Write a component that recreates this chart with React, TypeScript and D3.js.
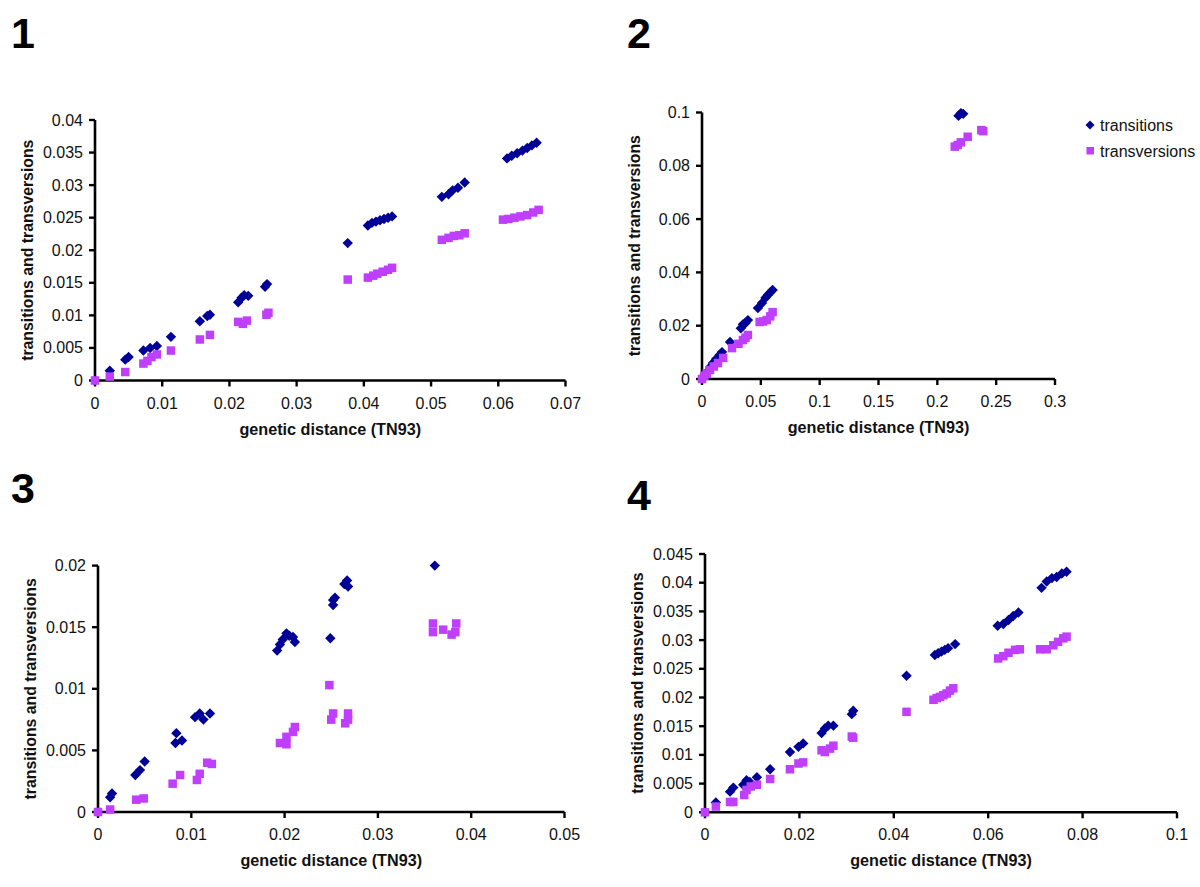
import React from "react";
import * as d3 from "d3";

type Pt = [number, number];

// ---------- data ----------
const p1Transitions: Pt[] = [[0,0],[0.0022,0.0015],[0.0045,0.0032],[0.005,0.0036],[0.0072,0.0046],[0.0082,0.005],[0.0092,0.0053],[0.0113,0.0067],[0.0156,0.0091],[0.0167,0.0099],[0.0171,0.0101],[0.0213,0.012],[0.0218,0.0127],[0.0222,0.0131],[0.0228,0.013],[0.0253,0.0144],[0.0256,0.0148],[0.0376,0.0211],[0.0406,0.0238],[0.0412,0.0242],[0.0418,0.0244],[0.0424,0.0246],[0.043,0.0248],[0.0436,0.025],[0.0442,0.0252],[0.0516,0.0282],[0.0526,0.0286],[0.0532,0.0292],[0.054,0.0296],[0.055,0.0304],[0.0613,0.0341],[0.062,0.0345],[0.0628,0.0349],[0.0636,0.0353],[0.0643,0.0357],[0.065,0.0361],[0.0657,0.0365]];
const p1Transversions: Pt[] = [[0,0],[0.0022,0.0006],[0.0045,0.0013],[0.0072,0.0026],[0.0078,0.003],[0.0084,0.0036],[0.0092,0.004],[0.0113,0.0046],[0.0156,0.0063],[0.0171,0.007],[0.0213,0.009],[0.022,0.0087],[0.0226,0.0092],[0.0255,0.0101],[0.0258,0.0104],[0.0376,0.0155],[0.0406,0.0158],[0.0414,0.0161],[0.042,0.0164],[0.0428,0.0167],[0.0436,0.017],[0.0442,0.0173],[0.0516,0.0216],[0.0526,0.0219],[0.0534,0.0222],[0.0542,0.0223],[0.055,0.0226],[0.0607,0.0247],[0.0615,0.0248],[0.0624,0.025],[0.0633,0.0252],[0.0643,0.0254],[0.0652,0.0258],[0.066,0.0262]];

const p2Transitions: Pt[] = [[0,0],[0.001,0.0008],[0.004,0.0025],[0.007,0.0045],[0.0093,0.006],[0.012,0.0075],[0.015,0.009],[0.017,0.0101],[0.0238,0.0139],[0.033,0.019],[0.0348,0.0205],[0.037,0.021],[0.039,0.0221],[0.0475,0.0266],[0.051,0.0285],[0.054,0.0305],[0.056,0.0315],[0.058,0.0325],[0.06,0.0334],[0.218,0.0988],[0.22,0.0997],[0.222,0.0995]];
const p2Transversions: Pt[] = [[0,0],[0.002,0.0012],[0.004,0.002],[0.0068,0.0034],[0.01,0.0047],[0.0136,0.006],[0.018,0.0079],[0.0255,0.0116],[0.031,0.0132],[0.0348,0.0146],[0.037,0.0155],[0.039,0.0165],[0.049,0.0214],[0.052,0.0216],[0.055,0.0221],[0.058,0.0235],[0.06,0.0251],[0.2148,0.0872],[0.2173,0.0878],[0.22,0.0888],[0.2258,0.0909],[0.2374,0.0934],[0.239,0.093]];

const p3Transitions: Pt[] = [[0,0],[0.0013,0.0012],[0.0015,0.0015],[0.004,0.003],[0.0045,0.0034],[0.005,0.0041],[0.0084,0.0064],[0.0083,0.0056],[0.009,0.0058],[0.0104,0.0077],[0.0109,0.008],[0.0113,0.0075],[0.012,0.008],[0.0192,0.0131],[0.0195,0.0136],[0.0198,0.014],[0.0202,0.0145],[0.0205,0.0143],[0.0209,0.0142],[0.0211,0.0138],[0.0249,0.0141],[0.0252,0.0172],[0.0252,0.0168],[0.0254,0.0174],[0.0264,0.0185],[0.0267,0.0188],[0.0268,0.0183],[0.0361,0.02]];
const p3Transversions: Pt[] = [[0,0],[0.0013,0.0002],[0.0041,0.001],[0.0049,0.0011],[0.008,0.0023],[0.0088,0.003],[0.0106,0.0026],[0.0109,0.0031],[0.0117,0.004],[0.0122,0.0039],[0.0195,0.0056],[0.0202,0.0055],[0.0202,0.0061],[0.0209,0.0065],[0.0211,0.0069],[0.0248,0.0103],[0.025,0.0075],[0.0252,0.008],[0.0265,0.0072],[0.0268,0.008],[0.0268,0.0075],[0.0359,0.0153],[0.0359,0.0146],[0.037,0.0148],[0.0379,0.0144],[0.0384,0.0153],[0.0383,0.0146]];

const p4Transitions: Pt[] = [[0,0],[0.0023,0.0017],[0.0053,0.0036],[0.006,0.0043],[0.0081,0.0048],[0.0088,0.0056],[0.0095,0.0053],[0.011,0.0061],[0.0138,0.0075],[0.018,0.0105],[0.0198,0.0114],[0.0208,0.012],[0.0247,0.0138],[0.0254,0.0146],[0.0261,0.0151],[0.0272,0.0151],[0.0311,0.0171],[0.0314,0.0177],[0.0427,0.0238],[0.0487,0.0274],[0.0494,0.0277],[0.0501,0.028],[0.0508,0.0283],[0.0515,0.0286],[0.053,0.0293],[0.062,0.0325],[0.0632,0.0328],[0.0643,0.0335],[0.0653,0.0342],[0.0664,0.0348],[0.0713,0.0391],[0.0724,0.0402],[0.0735,0.0408],[0.0745,0.041],[0.0756,0.0416],[0.0766,0.0419]];
const p4Transversions: Pt[] = [[0,0],[0.0023,0.001],[0.0053,0.0018],[0.006,0.0018],[0.0083,0.003],[0.0088,0.0039],[0.0097,0.0045],[0.011,0.0048],[0.0138,0.0058],[0.018,0.0075],[0.0198,0.0085],[0.0208,0.0087],[0.0247,0.0108],[0.0254,0.0105],[0.0265,0.0111],[0.0272,0.0116],[0.0311,0.0132],[0.0314,0.013],[0.0427,0.0175],[0.0484,0.0196],[0.0491,0.0199],[0.0498,0.0201],[0.0505,0.0204],[0.0512,0.0207],[0.0519,0.0212],[0.0526,0.0216],[0.0621,0.0268],[0.0632,0.0272],[0.0643,0.0278],[0.0657,0.0283],[0.0667,0.0284],[0.071,0.0284],[0.0724,0.0284],[0.0738,0.0291],[0.0748,0.0297],[0.0759,0.0303],[0.0766,0.0306]];

const p1XTicks = ["0","0.01","0.02","0.03","0.04","0.05","0.06","0.07"];
const p1YTicks = ["0","0.005","0.01","0.015","0.02","0.025","0.03","0.035","0.04"];
const p2XTicks = ["0","0.05","0.1","0.15","0.2","0.25","0.3"];
const p2YTicks = ["0","0.02","0.04","0.06","0.08","0.1"];
const p3XTicks = ["0","0.01","0.02","0.03","0.04","0.05"];
const p3YTicks = ["0","0.005","0.01","0.015","0.02"];
const p4XTicks = ["0","0.02","0.04","0.06","0.08","0.1"];
const p4YTicks = ["0","0.005","0.01","0.015","0.02","0.025","0.03","0.035","0.04","0.045"];

const panelNames = ["1", "2", "3", "4"];
const seriesNames = ["transitions", "transversions"];
const xTitle = "genetic distance (TN93)";
const yTitle = "transitions and transversions";

// ---------- styles / layout ----------
const NAVY = "#000096";
const PURPLE = "#bf3ffc";
const FONT = "Arial, 'Liberation Sans', Helvetica, sans-serif";

interface PanelCfg {
  name: string;
  xr: [number, number];
  yr: [number, number];
  xTicks: string[];
  yTicks: string[];
  tr: Pt[];
  tv: Pt[];
  label: [number, number];
}

const panels: PanelCfg[] = [
  { name: panelNames[0], xr: [95, 565.5], yr: [380.5, 120], xTicks: p1XTicks, yTicks: p1YTicks, tr: p1Transitions, tv: p1Transversions, label: [11, 48] },
  { name: panelNames[1], xr: [702, 1055], yr: [379, 112.5], xTicks: p2XTicks, yTicks: p2YTicks, tr: p2Transitions, tv: p2Transversions, label: [627, 48] },
  { name: panelNames[2], xr: [98, 564.5], yr: [812, 565.6], xTicks: p3XTicks, yTicks: p3YTicks, tr: p3Transitions, tv: p3Transversions, label: [11, 503] },
  { name: panelNames[3], xr: [705, 1177], yr: [812.3, 554], xTicks: p4XTicks, yTicks: p4YTicks, tr: p4Transitions, tv: p4Transversions, label: [627, 510] },
];

const diamond = (cx: number, cy: number, r: number) =>
  `M${cx},${cy - r}L${cx + r},${cy}L${cx},${cy + r}L${cx - r},${cy}Z`;

function Panel({ cfg }: { cfg: PanelCfg }) {
  const xVals = cfg.xTicks.map(Number);
  const yVals = cfg.yTicks.map(Number);
  const x = d3.scaleLinear().domain([0, xVals[xVals.length - 1]]).range(cfg.xr);
  const y = d3.scaleLinear().domain([0, yVals[yVals.length - 1]]).range(cfg.yr);
  const x0 = x(0);
  const y0 = y(0);
  const xMid = (cfg.xr[0] + cfg.xr[1]) / 2;
  const yMid = (cfg.yr[0] + cfg.yr[1]) / 2;
  const ds = 5.2;
  const sq = 8.5;
  return (
    <g>
      <text x={cfg.label[0]} y={cfg.label[1]} fontFamily={FONT} fontWeight="bold" fontSize={43} fill="#000">{cfg.name}</text>
      {/* axes */}
      <line x1={x0} x2={x(xVals[xVals.length - 1])} y1={y0} y2={y0} stroke="#000" strokeWidth={2.6} />
      <line x1={x0} x2={x0} y1={y0} y2={y(yVals[yVals.length - 1])} stroke="#000" strokeWidth={2.6} />
      {xVals.map((v, i) => (
        <g key={"xt" + i}>
          <line x1={x(v)} x2={x(v)} y1={y0} y2={y0 + 6} stroke="#000" strokeWidth={2.4} />
          <text x={x(v)} y={y0 + 28} textAnchor="middle" fontFamily={FONT} fontSize={16} fill="#111">{cfg.xTicks[i]}</text>
        </g>
      ))}
      {yVals.map((v, i) => (
        <g key={"yt" + i}>
          <line x1={x0 - 6} x2={x0} y1={y(v)} y2={y(v)} stroke="#000" strokeWidth={2.4} />
          <text x={x0 - 12} y={y(v) + 5.5} textAnchor="end" fontFamily={FONT} fontSize={16} fill="#111">{cfg.yTicks[i]}</text>
        </g>
      ))}
      <text x={xMid} y={y0 + 54} textAnchor="middle" fontFamily={FONT} fontWeight="bold" fontSize={16.2} fill="#111">{xTitle}</text>
      <text transform={`translate(${x0 - 62},${yMid}) rotate(-90)`} textAnchor="middle" fontFamily={FONT} fontWeight="bold" fontSize={15.8} fill="#111">{yTitle}</text>
      {/* points */}
      {cfg.tr.map((p, i) => (
        <path key={"tr" + i} d={diamond(x(p[0]), y(p[1]), ds)} fill={NAVY} />
      ))}
      {cfg.tv.map((p, i) => (
        <rect key={"tv" + i} x={x(p[0]) - sq / 2} y={y(p[1]) - sq / 2} width={sq} height={sq} fill={PURPLE} />
      ))}
    </g>
  );
}

export default function App() {
  return (
    <svg width={1200} height={887} style={{ position: "absolute", left: 0, top: 0, background: "#fff" }}>
      <rect width={1200} height={887} fill="#fff" />
      {panels.map((p, i) => (
        <Panel key={i} cfg={p} />
      ))}
      {/* legend */}
      <path d={diamond(1090, 125, 4.5)} fill={NAVY} />
      <text x={1100} y={130.5} fontFamily={FONT} fontSize={16} fill="#111">{seriesNames[0]}</text>
      <rect x={1086.5} y={147} width={7.5} height={7.5} fill={PURPLE} />
      <text x={1100} y={156.5} fontFamily={FONT} fontSize={16} fill="#111">{seriesNames[1]}</text>
    </svg>
  );
}
